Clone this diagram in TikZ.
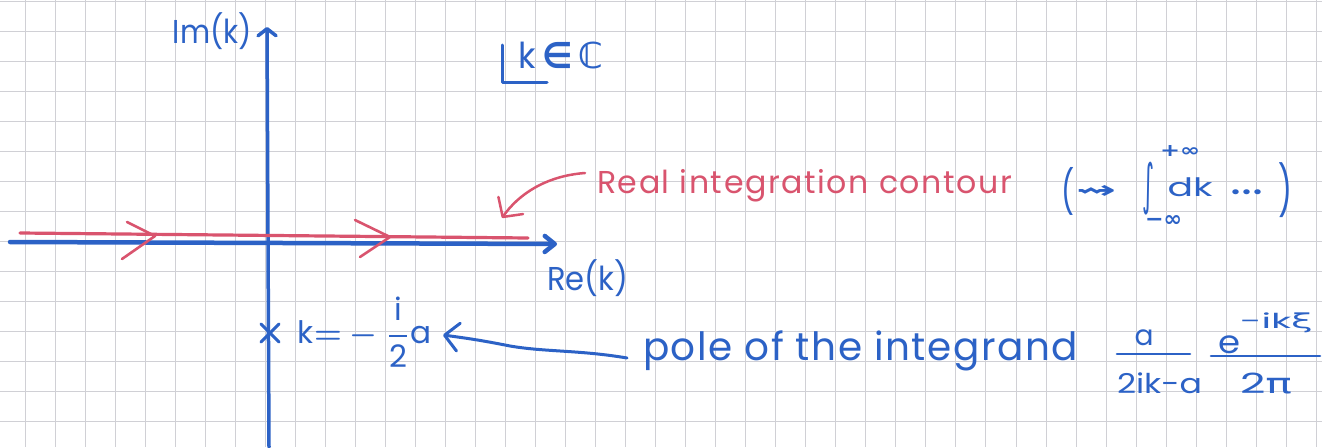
\documentclass[tikz,border=0pt]{standalone}
\usepackage{amsmath,amssymb}
\usepackage{fontspec}
\setmainfont{Poppins}
\newfontfamily\symf{DejaVu Sans}
\usetikzlibrary{arrows.meta}
\definecolor{ink}{HTML}{2C62C6}
\definecolor{inkred}{HTML}{D9546E}
\definecolor{gridc}{HTML}{D0D0D5}
\begin{document}
\begin{tikzpicture}[x=1pt,y=-1pt,
  txt/.style={inner sep=0pt, outer sep=0pt},
  pen/.style={line width=3.5pt, line cap=round, line join=round},
  gridline/.style={gridc, line width=1pt}]
\useasboundingbox (0,0) rectangle (1322,447);
\fill[white] (0,0) rectangle (1322,447);
% squared paper
\foreach \i in {0,...,43} \draw[gridline] ({25+30.03*\i},0) -- ({25+30.03*\i},447);
\foreach \j in {0,...,14} \draw[gridline] (0,{1+30*\j}) -- (1322,{1+30*\j});
% axes
\coordinate (vbot) at (269,447);
\coordinate (vtop) at (267,27);
\coordinate (hl) at (10,242);
\coordinate (hr) at (557,244);
\draw[pen, ink, line width=3.5pt, -{Straight Barb[length=7pt,width=18pt,round]}] (vbot) -- (vtop);
\draw[pen, ink, line width=4.5pt, -{Straight Barb[length=10pt,width=16pt,round]}] (hl) -- (hr);
% real contour
\coordinate (cl) at (20,233);
\coordinate (cr) at (528,238);
\draw[pen, inkred, line width=3.2pt] (cl) -- (cr);
\draw[pen, inkred, line width=2.6pt] (127,222) -- (155,236) -- (122,259);
\draw[pen, inkred, line width=2.6pt] (355,220) -- (390,237) -- (360,257);
% pole marker
\draw[pen, ink, line width=3pt] (261,324) -- (279,342) (261,342) -- (279,324);
% axis labels
\node[txt, ink] (imk) at (212.5,31.5) {\resizebox*{79pt}{37pt}{Im(k)}};
\node[txt, ink] (kc) at (561,55.5) {\resizebox*{84pt}{27pt}{k\,{\symf\bfseries ∈\,ℂ}}};
\draw[pen, ink, line width=3pt] (502,45) -- (502,82) -- (547,82);
\node[txt, ink] (rek) at (587.5,278.5) {\resizebox*{81pt}{37pt}{Re(k)}};
% contour label
\node[txt, inkred, anchor=base west] (real) at (597,193)
  {\resizebox{415pt}{!}{\addfontfeatures{LetterSpace=5}Real integration contour}};
% integral
\node[txt, ink] (lp) at (1067.5,191) {\resizebox*{13pt}{48pt}{(}};
\node[txt, ink] (sq) at (1096,192) {\resizebox*{40pt}{13pt}{\symf\bfseries ⇝}};
\node[txt, ink] (int) at (1148,188.5) {\resizebox*{12pt}{53pt}{\symf ∫}};
\node[txt, ink] (up) at (1180,151) {\resizebox*{40pt}{11pt}{\symf\bfseries +∞}};
\node[txt, ink] (lo) at (1163.5,221) {\resizebox*{37pt}{11pt}{\symf\bfseries −∞}};
\node[txt, ink] (dk) at (1190,187) {\resizebox*{45pt}{19pt}{dk}};
\node[txt, ink] (dots) at (1246.5,192) {\resizebox*{33pt}{5pt}{...}};
\node[txt, ink] (rp) at (1285,190.5) {\resizebox*{14pt}{55pt}{)}};
% pole label
\node[txt, ink] (kp) at (365,332) {\resizebox*{134pt}{70pt}{\boldmath$\text{k}{=}-\dfrac{\text{i}}{\text{2}}\text{a}$}};
\node[txt, ink, anchor=base west] (pole) at (643,360)
  {\resizebox{435pt}{!}{\addfontfeatures{LetterSpace=4}pole of the integrand}};
% a/(2ik-a)
\node[txt, ink] (n1) at (1144,338) {\resizebox*{19pt}{16pt}{a}};
\draw[pen, ink, line width=2.6pt] (1117,354) -- (1190,354);
\node[txt, ink] (d1) at (1159.5,383.5) {\resizebox*{85pt}{21pt}{2ik-a}};
% e^{-ik xi}/(2 pi)
\node[txt, ink] (n2) at (1229.5,345) {\resizebox*{22pt}{18pt}{e}};
\node[txt, ink] (s2) at (1276.5,323) {\resizebox*{73pt}{20pt}{-ik{\symf ξ}}};
\draw[pen, ink, line width=2.6pt] (1211,356) -- (1320,356);
\node[txt, ink] (d2) at (1266,383.5) {\resizebox*{52pt}{21pt}{2{\symf π}}};
% connectors
\draw[pen, inkred, line width=2.5pt, -{Straight Barb[length=14pt,width=30pt,round]}]
  ([xshift=-12pt,yshift=20pt]real.base west) .. controls (545,176) and (518,195) .. (502,218);
\draw[pen, ink, line width=3pt, -{Straight Barb[length=14pt,width=28pt,round]}]
  ([xshift=-16pt,yshift=2pt]pole.base west) .. controls (580,350) and (545,352) .. (510,346)
  .. controls (480,340) and (465,338) .. ([xshift=11pt,yshift=-3pt]kp.east);
\end{tikzpicture}
\end{document}
